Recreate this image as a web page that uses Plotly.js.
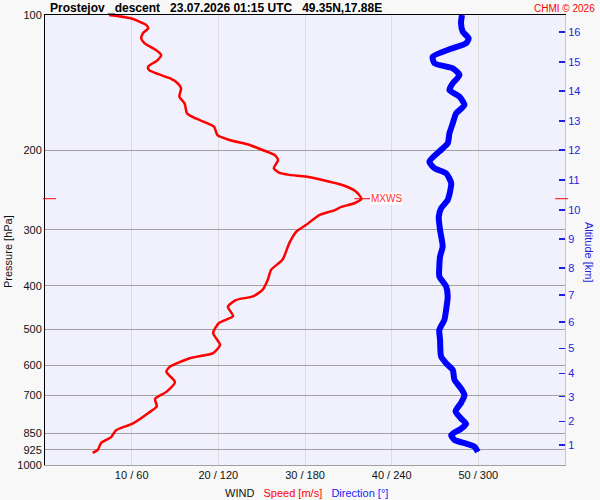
<!DOCTYPE html>
<html><head><meta charset="utf-8">
<script src="https://cdn.plot.ly/plotly-3.0.1.min.js"></script>
<style>html,body{margin:0;padding:0;background:#f8f8f8}</style>
</head><body><div id="chart" style="width:600px;height:500px"></div>
<script>
// Wind speed profile (m/s) vs pressure (hPa)
const speedPressure = [100,101.7,105.3,107,109.8,112.7,115.6,119.6,122.7,125.9,130.3,132.5,135.2,138.2,141.8,145.5,151.9,157.2,165.5,169.8,177,185,189.6,194.5,199.5,204.7,210,219,224,226.6,228.6,232.6,238.7,247,256,262,267,272,278,293,303,321,350,368,388,408,422,430,445,467,483,509,541,564,579,605,621,654,688,713,741,767,809,837,868,892,924,940];
const speedValues =   [7.4,9.9,11.7,11.9,11.3,11.1,11.5,12.8,13.4,13.0,11.9,12.0,13.0,14.4,15.3,15.7,15.5,16.1,16.4,17.4,19.5,19.9,21.3,23.6,25.1,26.5,26.9,26.4,27.0,28.2,30.1,32.0,34.3,35.9,36.5,35.7,34.2,33.3,31.7,30.1,29.0,28.2,27.4,26.1,25.7,25.1,24.0,22.0,21.1,21.7,20.1,19.4,20.2,19.4,16.7,14.4,14.0,15.0,14.0,12.7,12.9,11.9,10.1,8.2,7.6,6.5,6.1,5.5];

// Wind direction profile (deg) vs pressure (hPa)
const dirPressure = [100,104.3,108.9,112.7,115.6,119.2,123.8,128,131.4,135.9,141.8,146.8,151.9,158.5,165.5,174,183.2,192.9,201,211.9,219,224.9,236.5,257.6,269,280.7,300.5,327,344,362,381,401,422,452,476,501,527,574,594,615,647,676,700,728,760,788,810,831,858,880,896,910,935];
const dirValues =   [288.7,288,289.2,293.3,291.5,280,268.4,269.6,282.3,286.9,282.3,280,286.9,290.4,284.6,282.3,280,278.8,273,266.1,269.6,277.7,281.2,278.8,274.2,272.6,273.5,275.3,273.5,273,273,277.7,278.8,277.7,276.5,273,273.5,274.2,277.7,282.3,283.5,288,290.4,288,284.2,288,291.5,288,281.2,283.5,291.5,297.3,299.6];

// Axes
const pressureTicks = [100,200,300,400,500,600,700,850,925,1000];
const speedTicks = [10,20,30,40,50];
const windTickText = ['10 / 60','20 / 120','30 / 180','40 / 240','50 / 300'];
const altitudeKm = [1,2,3,4,5,6,7,8,9,10,11,12,13,14,15,16];
const altitudePressure = [902.6,801,705,625.6,551,481,419,365,314.6,271,232.6,199.5,172,147.5,127.2,109];

// Maximum wind
const mxwsPressure = 256;
const mxwsSpeed = 36.5;

const FONT = 'Liberation Sans, Arial, sans-serif';
const RED = '#ff0000', BLUE = '#0000ff';

const traces = [
  {x: speedValues, y: speedPressure, xaxis: 'x', yaxis: 'y', type: 'scatter', mode: 'lines',
   line: {color: RED, width: 2.5, shape: 'spline', smoothing: 0.6}, hoverinfo: 'skip'},
  {x: dirValues, y: dirPressure, xaxis: 'x2', yaxis: 'y2', type: 'scatter', mode: 'lines',
   line: {color: BLUE, width: 6, shape: 'spline', smoothing: 0.6}, hoverinfo: 'skip'}
];

const layout = {
  width: 600, height: 500,
  margin: {l: 45, r: 35, t: 15, b: 35, pad: 0},
  paper_bgcolor: '#f8f8f8', plot_bgcolor: '#f1f1fd',
  font: {family: FONT, size: 11, color: '#111'},
  showlegend: false,
  title: {text: '<b>Prostejov _descent\u00a0\u00a0\u00a023.07.2026 01:15 UTC\u00a0\u00a0\u00a049.35N,17.88E</b>',
          font: {family: FONT, size: 12, color: '#000'},
          xref: 'container', x: 50/600, xanchor: 'left',
          yref: 'container', y: 1 - 8/500, yanchor: 'middle'},
  xaxis: {range: [0, 60], tickvals: speedTicks, ticktext: windTickText, ticks: '',
          showgrid: true, gridcolor: '#dcdcdc', gridwidth: 1, zeroline: false,
          showline: true, linecolor: '#a0a0a0', linewidth: 1, anchor: 'y',
          tickfont: {size: 11, color: '#111'}},
  xaxis2: {range: [0, 360], overlaying: 'x', side: 'top', anchor: 'y2', showticklabels: false,
           ticks: '', showgrid: false, zeroline: false, showline: true, linecolor: '#000', linewidth: 1},
  yaxis: {type: 'log', range: [3, 2], tickvals: pressureTicks, ticktext: pressureTicks.map(String),
          ticks: '', showgrid: true, gridcolor: '#a0a0a0', gridwidth: 1, zeroline: false,
          showline: true, linecolor: '#000', linewidth: 1, anchor: 'x',
          tickfont: {size: 11, color: '#111'}},
  yaxis2: {type: 'log', range: [3, 2], overlaying: 'y', side: 'right', anchor: 'x2',
           tickvals: altitudePressure, ticktext: altitudeKm.map(String),
           ticks: 'inside', ticklen: 6, tickwidth: 1.5, tickcolor: '#2020e0',
           showgrid: false, zeroline: false, showline: true, linecolor: '#c8c8c8', linewidth: 1,
           tickfont: {size: 11, color: '#2424e0'}},
  annotations: [
    {xref: 'paper', yref: 'paper', x: (597-45)/520, y: 1 + (15-8)/450, xanchor: 'right', yanchor: 'middle',
     text: 'CHMI © 2026', showarrow: false, font: {size: 10, color: RED}},
    {xref: 'paper', yref: 'paper', x: (8-45)/520, y: 1 - (252-15)/450, xanchor: 'center', yanchor: 'middle',
     text: 'Pressure [hPa]', textangle: -90, showarrow: false, font: {size: 11, color: '#111'}},
    {xref: 'paper', yref: 'paper', x: (589-45)/520, y: 1 - (252-15)/450, xanchor: 'center', yanchor: 'middle',
     text: 'Altitude [km]', textangle: 90, showarrow: false, font: {size: 11, color: '#2424e0'}},
    {xref: 'paper', yref: 'paper', x: (306-45)/520, y: -(493-465)/450, xanchor: 'center', yanchor: 'middle',
     text: 'WIND\u00a0\u00a0\u00a0<span style="color:#ff0000">Speed [m/s]</span>\u00a0\u00a0\u00a0<span style="color:#1a1aff">Direction [°]</span>',
     showarrow: false, font: {size: 11, color: '#111'}},
    {xref: 'x', yref: 'y', x: mxwsSpeed, y: Math.log10(mxwsPressure), xanchor: 'left', yanchor: 'middle',
     xshift: 9, text: 'MXWS', showarrow: false, bgcolor: 'rgba(255,255,255,0.85)', borderpad: 0,
     font: {size: 10, color: '#ff3030'}}
  ],
  shapes: [
    {type: 'line', xref: 'x', yref: 'y', x0: mxwsSpeed - 0.8, x1: mxwsSpeed + 1.0, y0: mxwsPressure, y1: mxwsPressure,
     line: {color: RED, width: 1}},
    {type: 'line', xref: 'paper', yref: 'y', x0: -0.004, x1: 0.021, y0: mxwsPressure, y1: mxwsPressure,
     line: {color: RED, width: 1}},
    {type: 'line', xref: 'paper', yref: 'y', x0: 0.981, x1: 1.006, y0: mxwsPressure, y1: mxwsPressure,
     line: {color: RED, width: 1}}
  ]
};

Plotly.newPlot('chart', traces, layout, {staticPlot: true, displayModeBar: false});
</script></body></html>
